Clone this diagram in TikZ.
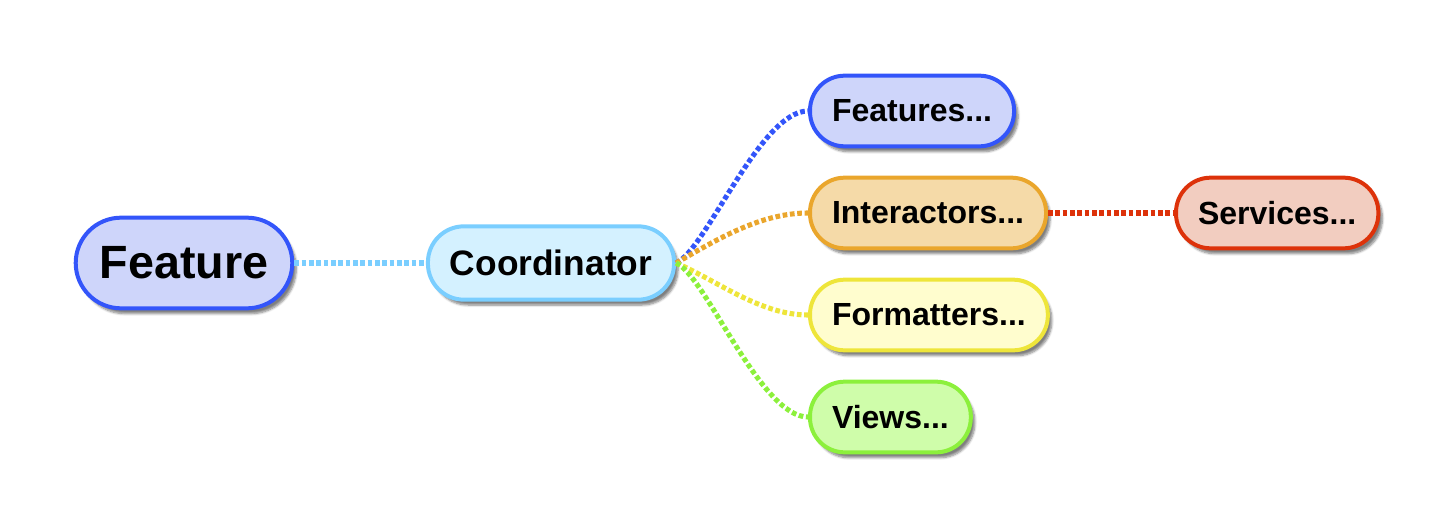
\documentclass[tikz,border=0pt]{standalone}
\usepackage{fontspec}
\setsansfont{Liberation Sans}
\usetikzlibrary{shadows.blur}
\definecolor{featline}{RGB}{51,85,250}
\definecolor{featfill}{RGB}{206,213,250}
\definecolor{coordline}{RGB}{122,206,255}
\definecolor{coordfill}{RGB}{212,241,255}
\definecolor{interline}{RGB}{234,166,44}
\definecolor{interfill}{RGB}{245,218,168}
\definecolor{formline}{RGB}{238,229,58}
\definecolor{formfill}{RGB}{255,253,206}
\definecolor{viewline}{RGB}{140,240,60}
\definecolor{viewfill}{RGB}{207,253,170}
\definecolor{servline}{RGB}{221,50,10}
\definecolor{servfill}{RGB}{242,205,192}
\tikzset{
  pill/.style={draw=#1line, fill=#1fill, line width=3pt, rounded corners=26pt,
    minimum height=53pt, inner xsep=16.5pt, font=\sffamily\bfseries\fontsize{24}{24}\selectfont,
    blur shadow={shadow xshift=3pt, shadow yshift=-4pt, shadow opacity=50, shadow blur steps=6}},
  link/.style={draw=#1line, line width=3.8pt, dash pattern=on 3.5pt off 2pt}
}
\begin{document}
\begin{tikzpicture}[x=0.75pt,y=0.75pt,yscale=-1,xscale=1]
    \useasboundingbox (0,0) rectangle (1455,528);
    % Root and coordinator
    \node [pill=feat, minimum height=68pt, rounded corners=34pt, inner xsep=18pt, font=\sffamily\bfseries\fontsize{35}{35}\selectfont] (feature) at (184,263) {Feature};
    \node [pill=coord, minimum height=55pt, rounded corners=27pt, font=\sffamily\bfseries\fontsize{26.5}{26.5}\selectfont] (coord) at (551,263) {Coordinator};
    % Children
    \node [pill=feat, anchor=west] (features) at (808,111) {Features...};
    \node [pill=inter, anchor=west] (interactors) at (808,213) {Interactors...};
    \node [pill=form, anchor=west] (formatters) at (808,315) {Formatters...};
    \node [pill=view, anchor=west] (views) at (808,417) {Views...};
    \node [pill=serv, anchor=west] (services) at (1174,213) {Services...};
    % Links
    \draw [link=coord] (feature.east) -- (coord.west);
    \draw [link=feat] (coord.east) .. controls +(30,-13) and +(-48,0) .. (features.west);
    \draw [link=inter] (coord.east) .. controls +(40,-23) and +(-48,0) .. (interactors.west);
    \draw [link=form] (coord.east) .. controls +(40,17) and +(-48,0) .. (formatters.west);
    \draw [link=view] (coord.east) .. controls +(30,13) and +(-48,0) .. (views.west);
    \draw [link=serv] (interactors.east) -- (services.west);
\end{tikzpicture}
\end{document}
